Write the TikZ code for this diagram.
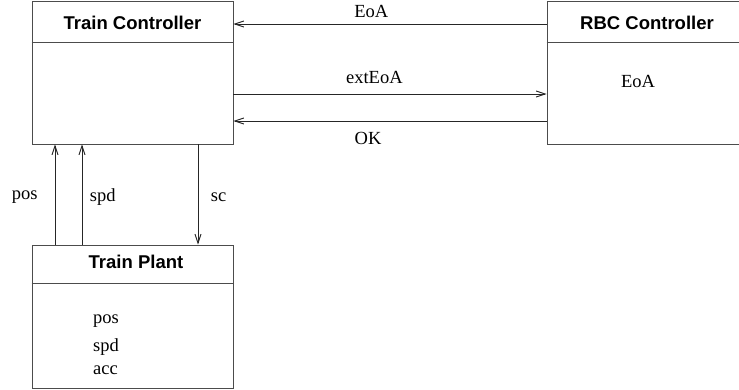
\documentclass[tikz,border=0pt]{standalone}
\usepackage{fontspec}
\setmainfont{Liberation Serif}
\setsansfont{Liberation Sans}
\usetikzlibrary{arrows.meta}

\tikzset{
  box/.style={draw=black!70, line width=0.9pt, minimum width=201pt, minimum height=143pt, inner sep=0pt},
  title/.style={font=\sffamily\bfseries\fontsize{18.5}{22}\selectfont},
  txt/.style={font=\fontsize{18.5}{22}\selectfont, inner sep=2pt},
  flow/.style={draw=black!85, line width=0.9pt, -{Straight Barb[length=9pt,width=6pt]}}
}

\begin{document}
\begin{tikzpicture}[x=1pt,y=-1pt]

\useasboundingbox (0,0) rectangle (739,389);
\clip (0,0) rectangle (739,389);

\node[box] (tc) at (132.5,72.5) {};  % train controller
\node[box] (rbc) at (647.5,72.5) {}; % RBC controller
\node[box] (tp) at (132.5,316.5) {}; % train plant

\draw[black!70, line width=0.9pt] ([yshift=-42pt]tc.north west) -- ([yshift=-42pt]tc.north east);
\draw[black!70, line width=0.9pt] ([yshift=-42pt]rbc.north west) -- ([yshift=-42pt]rbc.north east);
\draw[black!70, line width=0.9pt] ([yshift=-39pt]tp.north west) -- ([yshift=-39pt]tp.north east);

\node[title] (tctitle) at (132.5,23) {Train Controller};
\node[title] (rbctitle) at (647,23) {RBC Controller};
\node[title] (tptitle) at (136,262) {Train Plant};

\node[txt] (rbceoa) at (638,81) {EoA};
\node[txt, anchor=west] (tppos) at (91,321) {pos};
\node[txt, anchor=west] (tpspd) at (91,347) {spd};
\node[txt, anchor=west] (tpacc) at (91,370) {acc};

% between the controllers
\draw[flow] (rbc.west |- 0,24) -- node[txt, above=4pt, pos=0.56] (leoa) {EoA} (tc.east |- 0,24);
\draw[flow] (tc.east |- 0,94) -- node[txt, above=8pt, pos=0.45] (lext) {extEoA} (rbc.west |- 0,94);
\draw[flow] (rbc.west |- 0,121) -- node[txt, below=9pt, pos=0.57] (lok) {OK} (tc.east |- 0,121);

% between plant and controller
\draw[flow] (tp.north -| 55,0) -- node[txt, left=15pt, pos=0.47] (lpos) {pos} (tc.south -| 55,0);
\draw[flow] (tp.north -| 82,0) -- node[txt, right=5.5pt, pos=0.47] (lspd) {spd} (tc.south -| 82,0);
\draw[flow] (tc.south -| 198,0) -- node[txt, right=10.5pt, pos=0.53] (lsc) {sc} (tp.north -| 198,0);

\end{tikzpicture}
\end{document}
